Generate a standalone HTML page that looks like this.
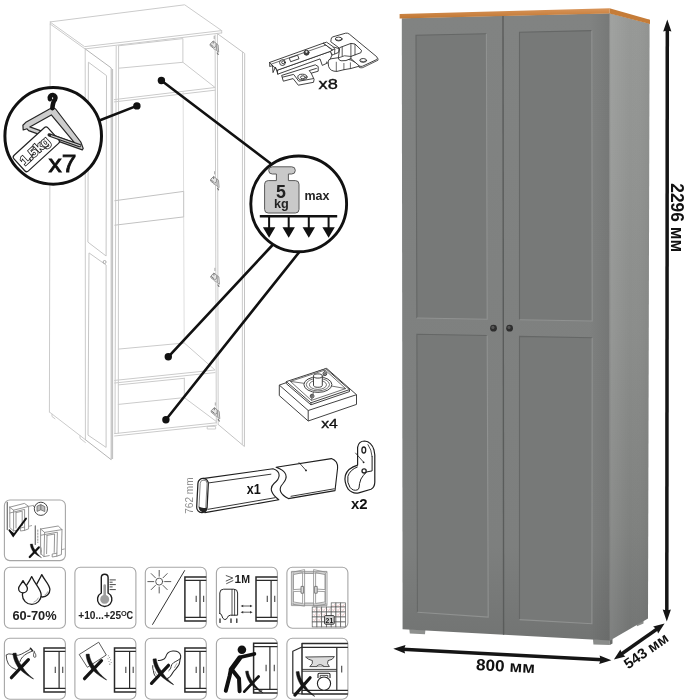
<!DOCTYPE html>
<html><head><meta charset="utf-8"><title>Wardrobe</title>
<style>
html,body{margin:0;padding:0;background:#fff}
body{width:684px;height:700px;overflow:hidden;position:relative;font-family:"Liberation Sans",sans-serif}
svg{position:absolute;left:0;top:0;display:block}
svg text{font-family:"Liberation Sans",sans-serif}
</style></head><body>
<svg width="684" height="700" viewBox="0 0 684 700">
<g opacity="0.999">
<defs><linearGradient id="gside" x1="0" y1="0" x2="0" y2="1"><stop offset="0" stop-color="#979997"/><stop offset="0.5" stop-color="#8b8d8b"/><stop offset="0.82" stop-color="#7f817f"/><stop offset="1" stop-color="#727473"/></linearGradient><linearGradient id="gfront" x1="0" y1="0" x2="0" y2="1"><stop offset="0" stop-color="#818382"/><stop offset="0.85" stop-color="#7d7f7e"/><stop offset="1" stop-color="#727473"/></linearGradient><linearGradient id="gwood" x1="0" y1="0" x2="0" y2="1"><stop offset="0" stop-color="#d9955a"/><stop offset="1" stop-color="#bf7632"/></linearGradient></defs>
<polygon points="409.3,629.0 425.4,629.9 425.0,634.3 409.8,633.5" fill="#8e908e"/>
<polygon points="593.0,639.0 609.8,640.0 609.8,645.0 593.4,644.4" fill="#8a8c8a"/>
<polygon points="609.8,640.0 612.5,638.5 612.5,643.5 609.8,645.0" fill="#6a6c6a"/>
<polygon points="636.5,624.5 643.5,620.6 643.5,623.6 637.0,626.3" fill="#8a8c8a"/>
<polygon points="401.8,18.3 609.5,13.2 610.0,640.6 402.6,629.2" fill="url(#gfront)"/>
<polygon points="609.5,13.2 649.6,23.6 648.0,618.6 610.0,640.6" fill="url(#gside)"/>
<defs><linearGradient id="gsideh" x1="0" y1="0" x2="1" y2="0"><stop offset="0" stop-color="#fff" stop-opacity="0.10"/><stop offset="0.5" stop-color="#fff" stop-opacity="0"/><stop offset="1" stop-color="#000" stop-opacity="0.04"/></linearGradient><linearGradient id="gfronth" x1="0" y1="0" x2="1" y2="0"><stop offset="0.9" stop-color="#000" stop-opacity="0"/><stop offset="1" stop-color="#000" stop-opacity="0.08"/></linearGradient></defs>
<polygon points="609.5,13.2 649.6,23.6 648.0,618.6 610.0,640.6" fill="url(#gsideh)"/>
<polygon points="401.8,18.3 609.5,13.2 610.0,640.6 402.6,629.2" fill="url(#gfronth)"/>
<polygon points="399.6,13.9 609.5,8.2 609.5,13.4 399.6,18.6" fill="url(#gwood)"/>
<polygon points="609.5,8.2 650.0,19.7 650.0,24.0 609.5,13.4" fill="#c57c38"/>
<line x1="503.0" y1="16" x2="503.6" y2="634.8" stroke="#5a5c5b" stroke-width="1.4"/>
<line x1="609.6" y1="13.4" x2="610.0" y2="640.6" stroke="#808280" stroke-width="0.8"/>
<polygon points="416.0,35.3 486.4,33.7 487.2,319.2 416.9,318.0" fill="#777978"/><polyline points="416.9,318.0 416.0,35.3 486.4,33.7" fill="none" stroke="#656766" stroke-width="1.1"/><polyline points="486.4,33.7 487.2,319.2 416.9,318.0" fill="none" stroke="#909291" stroke-width="1.1"/>
<polygon points="416.9,334.2 487.2,335.5 488.2,617.1 417.4,612.3" fill="#777978"/><polyline points="417.4,612.3 416.9,334.2 487.2,335.5" fill="none" stroke="#656766" stroke-width="1.1"/><polyline points="487.2,335.5 488.2,617.1 417.4,612.3" fill="none" stroke="#909291" stroke-width="1.1"/>
<polygon points="519.5,32.3 591.8,30.6 592.2,321.0 519.5,319.7" fill="#777978"/><polyline points="519.5,319.7 519.5,32.3 591.8,30.6" fill="none" stroke="#656766" stroke-width="1.1"/><polyline points="591.8,30.6 592.2,321.0 519.5,319.7" fill="none" stroke="#909291" stroke-width="1.1"/>
<polygon points="519.5,336.4 592.2,337.8 591.9,623.7 519.5,619.6" fill="#777978"/><polyline points="519.5,619.6 519.5,336.4 592.2,337.8" fill="none" stroke="#656766" stroke-width="1.1"/><polyline points="592.2,337.8 591.9,623.7 519.5,619.6" fill="none" stroke="#909291" stroke-width="1.1"/>
<circle cx="493.5" cy="328.2" r="3.4" fill="#2e2e2e"/>
<circle cx="492.9" cy="327.4" r="1.6" fill="#555"/>
<circle cx="509.6" cy="328.2" r="3.4" fill="#2e2e2e"/>
<circle cx="509.0" cy="327.4" r="1.6" fill="#555"/>
<line x1="667.3" y1="28.6" x2="666.8" y2="612.4" stroke="#151515" stroke-width="3.5"/><polygon points="666.8,621.4 662.7,609.4 666.8,610.6 670.9,609.4" fill="#151515"/><polygon points="667.3,19.6 671.4,31.6 667.3,30.4 663.2,31.6" fill="#151515"/>
<line x1="402.3" y1="649.2" x2="602.4" y2="659.8" stroke="#151515" stroke-width="3.5"/><polygon points="611.4,660.3 599.2,664.0 600.6,659.7 599.6,655.4" fill="#151515"/><polygon points="393.3,648.7 405.5,645.0 404.1,649.3 405.1,653.6" fill="#151515"/>
<line x1="620.4" y1="654.8" x2="658.1" y2="628.2" stroke="#151515" stroke-width="3.5"/><polygon points="664.6,623.6 658.1,633.5 656.6,629.3 653.1,626.4" fill="#151515"/><polygon points="613.9,659.4 620.4,649.5 621.9,653.7 625.4,656.6" fill="#151515"/>
<text transform="translate(671.2,217.8) rotate(90)" text-anchor="middle" font-weight="bold" font-size="17.6" fill="#111" textLength="69" lengthAdjust="spacingAndGlyphs">2296 мм</text>
<text transform="translate(505.2,671.6) rotate(3)" text-anchor="middle" font-weight="bold" font-size="16" fill="#111" textLength="59" lengthAdjust="spacingAndGlyphs">800 мм</text>
<text transform="translate(649.0,655.0) rotate(-35)" text-anchor="middle" font-weight="bold" font-size="14.6" fill="#111" textLength="50.5" lengthAdjust="spacingAndGlyphs">543 мм</text>
<!-- light wardrobe outline drawing -->
<g fill="none" stroke="#cbcbcb" stroke-width="1" stroke-linecap="round" stroke-linejoin="round">
  <!-- top panel -->
  <polygon points="50.3,21.9 184.7,4.8 221.7,30.6 85,46.6"/>
  <polyline points="50.3,24.1 85,48.9 221.7,32.9"/>
  <line x1="221.7" y1="30.6" x2="221.7" y2="32.9"/>
  <line x1="50.3" y1="21.9" x2="50.3" y2="24.1"/>
  <!-- left outer side -->
  <line x1="50.2" y1="24" x2="49.4" y2="412"/>
  <polyline points="49.4,412 85.4,439.7"/>
  <polyline points="52,414.2 52,416.5 55,418.8"/>
  <polyline points="80,435.6 80,438.3 85.4,442.5"/>
  <line x1="85.2" y1="48.9" x2="85.4" y2="439.7"/>
  <!-- left inner side panel -->
  <line x1="116.2" y1="46" x2="115.0" y2="433.6"/>
  <line x1="118.6" y1="45.8" x2="118.3" y2="433.2"/>
  <!-- top rail -->
  <polyline points="118.6,45.8 182.9,38.6 182.9,62.3 118.6,68.2"/>
  <!-- shelf 1 -->
  <polyline points="182.9,62.3 215.1,87.5 114.3,99.6"/>
  <line x1="114.3" y1="101.9" x2="215.1" y2="90.2"/>
  <!-- back right inner corner -->
  <line x1="183.1" y1="92" x2="183.6" y2="191.4" stroke="#dedede"/>
  <line x1="183.7" y1="216.9" x2="184.2" y2="343" stroke="#dedede"/>
  <!-- mid rail -->
  <polyline points="114.8,200.7 183.7,191.4 183.7,216.9 114.8,225.2" stroke="#c2c2c2"/>
  <!-- shelf 2 -->
  <polyline points="118.3,349.1 184.3,343 215,370 114.6,380.4"/>
  <line x1="114.6" y1="383" x2="215" y2="372.6"/>
  <!-- lower rail -->
  <polyline points="118.3,384.9 184.3,378.3"/>
  <polyline points="118.3,404.4 184.3,397.6 184.3,378.3"/>
  <!-- bottom -->
  <polyline points="184.3,397.6 216.5,421.6"/>
  <line x1="114.6" y1="433.6" x2="216.5" y2="422.8"/>
  <line x1="114.6" y1="436" x2="216.5" y2="425.2"/>
  <!-- right side panel -->
  <line x1="215.1" y1="34.9" x2="216.3" y2="423"/>
  <line x1="217.4" y1="34.4" x2="218.2" y2="424.5"/>
  <!-- right door -->
  <polyline points="217.6,33.8 244.7,53.5 244.4,446.5 218.2,424.5" stroke="#c4c4c4"/>
  <line x1="242.5" y1="52" x2="242.3" y2="444.5"/>
</g>
<!-- left door (slightly darker) -->
<g fill="none" stroke="#bdbdbd" stroke-width="1" stroke-linejoin="round">
  <polyline points="85.2,48.9 111.2,67.9 111.2,459.7 85.4,439.7" stroke="#b4b4b4"/>
  <line x1="112.6" y1="69" x2="112.6" y2="459"/>
  <polygon points="88.4,62.2 106.5,75.6 106.1,256 87.9,242.1" stroke="#c6c6c6"/>
  <polygon points="89,252.9 106.1,265 106.1,447.4 88,435.1" stroke="#c6c6c6"/>
  <circle cx="104.6" cy="262" r="1.5" stroke="#aaa"/>
</g>
<!-- hinges -->
<defs><g id="hng" fill="none" stroke="#8c8c8c" stroke-width="1" stroke-linejoin="round" stroke-linecap="round">
  <path d="M-0.8,-9 v2.4" stroke="#aaa"/>
  <path d="M-4.6,-1.4 l2.8,-2.8 l3,2.4 l-0.2,3 l-2.6,1.8 l-3,-2.4 z" fill="#e6e6e6"/>
  <path d="M-4.2,-0.6 l2.4,2 M-1.8,-3.6 v1.6" stroke="#777"/>
  <path d="M1.6,-1.4 l1.5,1 l0.6,7.4 l-1.7,-1.2 z" stroke="#999"/>
  <path d="M-1.4,3.6 l3.4,1.8" stroke="#aaa"/>
  <path d="M2.2,7.8 l1,1.4" stroke="#777" stroke-width="1.2"/>
</g></defs>
<use href="#hng" x="215.0" y="45.2"/>
<use href="#hng" x="215.4" y="180.6"/>
<use href="#hng" x="215.7" y="277.2"/>
<use href="#hng" x="216.1" y="411.8"/>
<path d="M207.2,426.4 h8.4 v2.6 h-8.4 z" fill="none" stroke="#c8c8c8" stroke-width="0.9"/>

<!-- leader lines, dots, circles -->
<g stroke="#111" stroke-width="2.6" stroke-linecap="round">
  <line x1="136.8" y1="105.9" x2="100" y2="120.2"/>
  <line x1="161.3" y1="80.5" x2="270" y2="163"/>
  <line x1="168.3" y1="356.8" x2="273.5" y2="244"/>
  <line x1="165.9" y1="419.7" x2="299.3" y2="252"/>
</g>
<g fill="#111">
  <circle cx="136.9" cy="105.9" r="3.7"/>
  <circle cx="161.4" cy="80.5" r="3.7"/>
  <circle cx="168.3" cy="356.8" r="3.7"/>
  <circle cx="165.9" cy="419.7" r="3.7"/>
</g>
<circle cx="53.2" cy="135.9" r="48.3" fill="#fff" stroke="#111" stroke-width="3.0"/>
<circle cx="298.7" cy="203.9" r="47.9" fill="#fff" stroke="#111" stroke-width="2.9"/>

<!-- ===== hanger callout ===== -->
<g>
  <!-- hanger body -->
  <path d="M50.0,108.7 L26.3,121.9 L22.9,125.2 L23.2,130.0 L27.0,128.8 L28.6,130.6 L82.3,149.9 L83.2,148.4 L80.8,142.0 L55.6,109.0 L52.8,107.6 Z
           M51.3,114.9 L29.8,126.9 L74.4,142.7 Z" fill="#cdcdcd" fill-rule="evenodd" stroke="#262626" stroke-width="1.2" stroke-linejoin="round"/>
  <!-- hook -->
  <path d="M49.9,99.0 A2.9,2.9 0 1 1 55.0,99.6 Q52.9,101.6 52.4,108.2" fill="none" stroke="#111" stroke-width="4.6" stroke-linecap="round"/>
  <!-- tag -->
  <g transform="translate(36.5,149.2) rotate(-42.4)">
    <rect x="-23.2" y="-10.6" width="46.0" height="21.2" rx="2.6" fill="#fff" stroke="#222" stroke-width="1.2"/>
    <text x="-2.2" y="4.6" text-anchor="middle" font-weight="bold" font-size="13.4" fill="#fff" stroke="#111" stroke-width="1.5" paint-order="stroke" textLength="35" lengthAdjust="spacingAndGlyphs">1.5kg</text>
  </g>
  <!-- bar through tag hole -->
  <path d="M49.2,134.9 L79.6,145.6" stroke="#262626" stroke-width="3.4" stroke-linecap="round" fill="none"/>
  <path d="M51.4,135.7 L80.0,145.8" stroke="#d4d4d4" stroke-width="1.2" stroke-linecap="round" fill="none"/>
  <text x="48.6" y="171.8" font-size="24.7" fill="#111" stroke="#111" stroke-width="0.8" textLength="28" lengthAdjust="spacingAndGlyphs">x7</text>
</g>

<!-- ===== 5kg callout ===== -->
<g>
  <path d="M272.3,166.8 H291.7 A3.6,3.6 0 0 1 291.7,174.0 H288.4 V180.6 H295.4 A3.6,3.6 0 0 1 299.0,184.2 V209.4 A3.6,3.6 0 0 1 295.4,213.0 H268.2 A3.6,3.6 0 0 1 264.6,209.4 V184.2 A3.6,3.6 0 0 1 268.2,180.6 H276.4 V174.0 H272.3 A3.6,3.6 0 0 1 272.3,166.8 Z" fill="#c9c9c9" stroke="#5a5a5a" stroke-width="1.0"/>
  <text x="280.9" y="198.4" text-anchor="middle" font-weight="bold" font-size="17.8" fill="#222">5</text>
  <text x="281.4" y="207.9" text-anchor="middle" font-weight="bold" font-size="12" fill="#222" textLength="14.8" lengthAdjust="spacingAndGlyphs">kg</text>
  <text x="304.4" y="199.6" font-weight="bold" font-size="13" fill="#222" textLength="25" lengthAdjust="spacingAndGlyphs">max</text>
  <rect x="259.8" y="215.0" width="77.4" height="2.5" fill="#111"/>
  <g fill="#111">
    <path d="M268.1,217 h2 v10.2 h5.2 l-6.2,10.5 l-6.2,-10.5 h5.2 z"/>
    <path d="M287.7,217 h2 v10.2 h5.2 l-6.2,10.5 l-6.2,-10.5 h5.2 z"/>
    <path d="M307.8,217 h2 v10.2 h5.2 l-6.2,10.5 l-6.2,-10.5 h5.2 z"/>
    <path d="M327.6,217 h2 v10.2 h5.2 l-6.2,10.5 l-6.2,-10.5 h5.2 z"/>
  </g>
</g>

<!-- ===== hinge x8 ===== -->
<g fill="#fff" stroke="#2e2e2e" stroke-width="0.9" stroke-linejoin="round" stroke-linecap="round">
  <!-- mounting plate -->
  <path d="M282.0,75.3 L315.3,64.8 L318.2,66.5 L318.2,71.2 L311.2,73.2 L314.1,79.4 L313.5,82.3 L298.3,85.2 L293.1,78.6 L283.7,81.1 Z"/>
  <path d="M282.4,77.2 L293.6,74.4 L298.8,81.2 L313.4,78.6 M311.2,73.2 L309.2,70.6 L316.4,68.4" fill="none"/>
  <ellipse cx="302.4" cy="77.0" rx="4.6" ry="2.8"/>
  <ellipse cx="302.9" cy="77.3" rx="2.4" ry="1.5"/>
  <!-- arm side -->
  <path d="M277.9,70.0 L330.5,51.3 L332.0,55.0 L328.7,62.4 L322.3,65.4 L320.0,58.9 L277.9,74.1 Z"/>
  <!-- arm top -->
  <path d="M269.7,62.4 L323.5,43.1 L332.3,50.1 L330.5,51.3 L277.9,70.0 Z"/>
  <path d="M269.7,62.4 L269.7,66.5 L272.5,65.6 L273.0,72.6 L275.4,67.0 L277.9,74.1" fill="none"/>
  <path d="M271.6,64.0 L326.0,45.0" fill="none" stroke-width="0.7"/>
  <circle cx="282.5" cy="62.6" r="2.9"/>
  <circle cx="283.2" cy="62.3" r="1.5"/>
  <path d="M289.6,58.0 L297.6,55.2 L299.0,58.8 L291.0,61.6 Z"/>
  <circle cx="306.5" cy="52.7" r="2.5" fill="#444"/>
  <circle cx="306.5" cy="51.8" r="1.1" fill="#ddd" stroke="none"/>
  <!-- cup body -->
  <path d="M328.1,61.6 Q328.3,59.2 331.0,58.8 L339.0,57.6 L351.0,60.0 L359.1,64.4 L359.1,66.2 L350.9,68.5 L343.9,69.7 L337.0,71.4 Q330.2,71.6 328.7,66.8 Z"/>
  <path d="M336.3,62.2 L336.3,71.0 M343.9,63.4 L343.9,69.7 M350.4,62.8 L350.4,68.5" fill="none" stroke-width="0.7"/>
  <!-- cup plate -->
  <path d="M331.1,39.0 Q331.0,37.4 333.0,36.8 L345.6,33.2 Q347.6,32.8 349.2,34.0 L376.8,56.8 Q378.2,58.4 376.6,59.6 L362.6,66.2 Q361.0,66.8 359.4,66.0 L350.9,58.6 Q346.0,61.4 341.0,60.8 Q338.6,60.2 338.4,58.0 L339.6,48.3 L331.1,42.0 Z"/>
  <path d="M378.0,58.8 L378.0,60.2 L362.8,67.6 Q361.0,68.2 359.2,67.4 L359.1,66.0" fill="none" stroke-width="0.8"/>
  <!-- cavity -->
  <path d="M339.8,47.6 L350.9,43.4 L355.0,44.0 L361.5,50.4 L360.9,52.7 L350.9,56.4 L350.9,58.6" fill="none"/>
  <path d="M350.9,43.6 V56.4 M355.0,44.4 V54.8 M342.2,47.0 V56.0" fill="none" stroke-width="0.8"/>
  <path d="M339.0,57.6 Q344.0,54.4 350.9,56.4" fill="none" stroke-width="0.8"/>
  <ellipse cx="338.7" cy="39.0" rx="3.4" ry="1.9"/>
  <path d="M335.8,39.6 Q338.7,41.4 341.6,39.6" fill="none" stroke-width="0.7"/>
  <ellipse cx="363.2" cy="60.4" rx="3.4" ry="1.9"/>
  <path d="M360.3,61.0 Q363.2,62.8 366.1,61.0" fill="none" stroke-width="0.7"/>
  <!-- link -->
  <path d="M323.5,43.1 L326.6,42.2 L333.6,47.0 L339.0,48.6 L338.6,52.4 L333.4,54.6 L332.0,55.0 L330.5,51.3 L332.3,50.1 Z"/>
  <path d="M332.3,50.1 L334.8,49.0 L334.6,53.6 M334.8,49.0 L333.0,47.2" fill="none" stroke-width="0.8"/>
  <circle cx="331.6" cy="54.0" r="0.7" fill="#555" stroke="none"/>
  <circle cx="326.6" cy="62.2" r="0.7" fill="#555" stroke="none"/>
</g>
<text x="318.6" y="88.6" font-size="13.8" fill="#111" stroke="#111" stroke-width="0.35" textLength="19.2" lengthAdjust="spacingAndGlyphs">x8</text>

<!-- ===== foot x4 ===== -->
<g fill="#fff" stroke="#383838" stroke-width="0.95" stroke-linejoin="round">
  <path d="M279.3,385.1 L326.7,368.4 L356.5,394.7 L356.5,404.4 L308.2,421.0 L279.3,395.6 Z"/>
  <path d="M279.3,385.1 L308.2,410.5 L356.5,394.7 M308.2,410.5 L308.2,421.0" fill="none"/>
  <path d="M286.3,381.6 L325.8,368.6 L349.5,389.6 L349.5,391.6 L310.9,404.8 L286.3,383.6 Z"/>
  <path d="M286.3,381.6 L310.9,402.8 L349.5,389.6 M310.9,402.8 L310.9,404.8" fill="none"/>
  <path d="M290.4,381.4 L325.2,370.0 L345.6,388.6 L311.4,400.4 Z" fill="none" stroke-width="0.7"/>
  <path d="M290.4,381.4 L304.5,383.4 M325.2,370.0 L322.5,377.2 M345.6,388.6 L331.5,386.0 M311.4,400.4 L313.6,391.6" fill="none" stroke-width="0.7"/>
  <ellipse cx="317.9" cy="384.6" rx="14.0" ry="7.8"/>
  <ellipse cx="317.9" cy="384.6" rx="11.6" ry="6.3" stroke-width="0.7"/>
  <ellipse cx="317.9" cy="384.8" rx="8.6" ry="4.6" stroke-width="0.7"/>
  <path d="M313.5,376.0 L313.5,385.2 A4.4,2.1 0 0 0 322.3,385.2 L322.3,376.0" />
  <ellipse cx="317.9" cy="376.0" rx="4.4" ry="2.1"/>
  <circle cx="324.9" cy="373.7" r="1.9"/>
  <circle cx="324.9" cy="373.7" r="0.8"/>
  <circle cx="312.1" cy="396.1" r="1.9"/>
  <circle cx="312.1" cy="396.1" r="0.8"/>
</g>
<text x="321.2" y="428.2" font-size="13.6" fill="#111" stroke="#111" stroke-width="0.35" textLength="16.6" lengthAdjust="spacingAndGlyphs">x4</text>

<!-- ===== rod x1 ===== -->
<g fill="#fff" stroke="#1f1f1f" stroke-width="1.1" stroke-linejoin="round" stroke-linecap="round">
  <!-- left piece -->
  <path d="M202.6,478.6 L273.0,468.8 C281.5,471.5 280.5,478.5 274.0,483.5 C268.5,488.5 272.0,494.5 278.8,499.8 L204.8,512.6 Z"/>
  <path d="M208.0,483.0 L270.9,474.2 M208.0,509.3 L275.0,497.7" fill="none" stroke-width="0.9"/>
  <rect x="-5.2" y="-17.1" width="10.4" height="34.2" rx="5.2" transform="translate(202.5,495.5) rotate(3)" stroke-width="1.25"/>
  <rect x="-3.4" y="-15.4" width="6.8" height="30.8" rx="3.4" transform="translate(203.0,495.4) rotate(3)" stroke-width="0.7" stroke="#555" fill="none"/>
  <path d="M198.6,506.6 Q199.4,512.0 203.4,512.5 Q206.6,512.0 207.0,507.4 Q203,509.0 198.6,506.6 Z" fill="#222" stroke="none"/>
  <!-- right piece -->
  <path d="M276.1,467.2 L331.4,458.6 Q338.0,461.0 337.6,468.0 L335.0,490.6 L288.4,498.6 C280.5,494.5 277.5,489.5 283.0,483.5 C288.5,477.0 287.0,471.0 276.1,467.2 Z"/>
  <path d="M291.0,496.3 L334.2,488.8" fill="none" stroke-width="0.9"/>
  <path d="M299.0,462.5 L306.0,470.4" fill="none" stroke-width="0.8"/>
  <circle cx="306.0" cy="470.4" r="0.9" fill="#1f1f1f" stroke="none"/>
</g>
<text x="246.8" y="493.9" font-size="14" font-weight="bold" fill="#111" textLength="14.0" lengthAdjust="spacingAndGlyphs">x1</text>
<text transform="translate(192.8,513.8) rotate(-90)" font-size="10.2" fill="#8c8c8c" textLength="36.5" lengthAdjust="spacingAndGlyphs">762 mm</text>

<!-- ===== bracket x2 ===== -->
<g fill="#fff" stroke="#1f1f1f" stroke-width="1.2" stroke-linejoin="round" stroke-linecap="round">
  <path d="M357.6,465.1 L357.6,447.4 Q358.6,441.0 364.6,441.0 Q371.5,441.6 374.0,450.0 L374.8,455.0 L374.8,482.3 Q374.6,487.6 371.0,489.2 L359.6,492.6 Q353.0,494.6 348.2,489.2 Q343.8,482.5 345.4,475.2 Q347.8,468.0 357.6,465.1 Z"/>
  <path d="M357.3,467.0 Q350.0,469.8 347.9,476.2 Q346.8,482.6 349.9,487.2 Q353.2,491.6 357.9,489.7 L359.0,488.0 L359.6,483.4 Q360.4,478.6 363.4,475.4 L366.4,472.0 L372.1,470.9 L372.1,456.6" fill="none" stroke-width="1.0"/>
  <path d="M372.1,456.6 Q371.6,449.5 368.0,444.6" fill="none" stroke-width="0.8"/>
  <ellipse cx="363.8" cy="450.1" rx="1.9" ry="3.1" stroke-width="1.3"/>
  <circle cx="364.1" cy="470.9" r="2.1" stroke-width="1.3"/>
  <path d="M355.6,453.1 L363.4,462.0" fill="none" stroke-width="0.8"/>
  <circle cx="363.6" cy="462.3" r="0.9" fill="#1f1f1f" stroke="none"/>
</g>
<text x="351.0" y="508.6" font-size="14" font-weight="bold" fill="#111" textLength="16.6" lengthAdjust="spacingAndGlyphs">x2</text>

<rect x="4.4" y="500.0" width="61" height="60.6" rx="5.5" fill="#fff" stroke="#a6a6a6" stroke-width="1.1"/>
<g fill="none" stroke="#8a8a8a" stroke-width="0.9" stroke-linejoin="round" stroke-linecap="round">
  <path d="M7.3,502.5 V529.6" stroke-width="1.3" stroke="#777"/>
  <path d="M9.6,507.2 L24.4,503.4 L28.6,506.4 L28.6,528.8 L24.6,530.4 L24.6,509.4 L9.8,513.0"/>
  <path d="M9.6,507.2 L13.6,510.2 L28.6,506.4 M13.6,510.2 V531.0 L9.8,527.6 V507.2 M13.6,531.0 L18.6,529.8 M24.6,527 L20.4,528 V531 L24.6,530.4"/>
  <path d="M16.0,512.6 L22.2,511.2 V525.6 M16.0,512.6 V528"/>
  <path d="M28.6,506.4 L33.4,505.4 M28.6,526.4 L31.6,525.6" stroke="#999"/>
  <path d="M35.3,526.0 V544.4" stroke-width="1.3" stroke="#777"/>
  <path d="M37.8,530 V542.6" stroke-dasharray="1.4 1.6"/>
  <path d="M40.6,529.0 L58.2,526.0 L62.0,529.6 L61.4,554.6 L56.8,556.2 L57.4,532.2 L41.0,535.2"/>
  <path d="M40.6,529.0 L44.6,532.4 L62.0,529.6 M44.6,532.4 L44.0,556.6 L40.6,553.6 V529.0 M44.0,556.6 L49.2,555.6 M56.8,553.2 L52.2,554.0 V557.0 L56.8,556.2"/>
  <path d="M47.0,535.4 L54.6,534.0 L54.2,552.4 M47.0,535.4 L46.6,553.6"/>
  <path d="M61.6,549.6 L64.4,549.0" stroke="#999"/>
  <path d="M40.2,546.4 Q42.6,549 41.0,554.6" stroke="#999"/>
</g>
<circle cx="40.9" cy="508.8" r="6.6" fill="#fff" stroke="#444" stroke-width="1.0"/>
<path d="M33.2,506.2 L34.6,506.8" stroke="#444" stroke-width="0.8"/>
<path d="M37.0,506.2 L40.8,504.6 L44.8,506.6 V511.6 L40.8,509.8 L37.0,511.4 Z M40.8,504.6 V509.8" fill="#bdbdbd" stroke="#666" stroke-width="0.8" stroke-linejoin="round"/>
<path d="M9.4,530.2 L13.2,535.8 L26.0,518.6" fill="none" stroke="#111" stroke-width="1.9" stroke-linecap="round" stroke-linejoin="miter"/>
<path d="M9.0,529.6 L13.4,536.4 L14.6,533.6 Z" fill="#111"/>

<line x1="38.77" y1="547.39" x2="29.76" y2="556.99" stroke="#141414" stroke-width="2.23" stroke-linecap="round"/>
<path d="M30.24,544.12 L30.35,545.13 L30.53,546.13 L30.79,547.13 L31.12,548.11 L31.53,549.08 L32.01,550.05 L32.55,550.99 L33.12,551.97 L34.00,552.73 L34.91,553.48 L35.86,554.22 L36.86,554.95 L37.91,555.65 L39.01,556.34 L40.17,557.01 L41.38,557.68 L41.45,557.57 L40.42,556.67 L39.45,555.76 L38.57,554.86 L37.77,553.94 L37.05,553.03 L36.41,552.11 L35.87,551.20 L35.44,550.26 L34.81,549.52 L34.31,548.74 L33.86,547.95 L33.48,547.16 L33.16,546.35 L32.90,545.54 L32.70,544.72 L32.56,543.88 Z" fill="#141414" stroke="#141414" stroke-width="0.27" stroke-linejoin="round"/>
<rect x="4.4" y="567.3" width="61" height="61" rx="5.5" fill="#fff" stroke="#a6a6a6" stroke-width="1.1"/>
<g fill="#fff" stroke="#1c1c1c" stroke-width="1.3" stroke-linejoin="round">
  <path d="M41.8,574.6 C44.6,580.4 49.9,584.8 49.9,589.6 A7.4,7.4 0 0 1 35.1,589.6 C35.1,584.8 39.4,580.4 41.8,574.6 Z"/>
  <path d="M31.7,576.6 C35.2,584.6 41.2,589.0 41.2,595.0 A9.4,9.4 0 0 1 22.4,595.0 C22.4,589.0 28.2,584.6 31.7,576.6 Z"/>
  <path d="M23.0,580.6 C24.8,584.4 27.4,586.2 27.4,588.4 A4.4,4.4 0 0 1 18.6,588.4 C18.6,586.2 21.2,584.4 23.0,580.6 Z"/>
</g>
<path d="M38.4,597.6 A7.2,7.2 0 0 1 33.6,602.2" fill="none" stroke="#999" stroke-width="0.9"/>
<path d="M47.8,591.4 A5.6,5.6 0 0 1 44.6,595.0" fill="none" stroke="#999" stroke-width="0.9"/>
<text x="34.5" y="619.6" text-anchor="middle" font-weight="bold" font-size="12.4" fill="#222" textLength="44.2" lengthAdjust="spacingAndGlyphs">60-70%</text>

<rect x="74.9" y="567.3" width="61" height="61" rx="5.5" fill="#fff" stroke="#a6a6a6" stroke-width="1.1"/>
<path d="M101.3,577.6 A3.4,3.4 0 0 1 108.1,577.6 V593.0 A7.2,7.2 0 1 1 101.3,593.0 Z" fill="#fff" stroke="#1c1c1c" stroke-width="1.4"/>
<path d="M103.4,585.6 A1.3,1.3 0 0 1 106.0,585.6 V595.0 A4.5,4.5 0 1 1 103.4,595.0 Z" fill="#9e9e9e"/>
<g stroke="#333" stroke-width="0.9" fill="none">
  <path d="M109.6,579.9 H115.8 M109.6,582.2 H112.6 M109.6,584.6 H115.8 M109.6,586.9 H112.6 M109.6,589.6 H115.8"/>
</g>
<text x="78.2" y="618.9" font-weight="bold" font-size="10.4" fill="#222" textLength="43.0" lengthAdjust="spacingAndGlyphs">+10...+25</text>
<text x="121.0" y="616.2" font-weight="bold" font-size="7.4" fill="#222">O</text>
<text x="126.4" y="618.9" font-weight="bold" font-size="10.4" fill="#222" textLength="6.6" lengthAdjust="spacingAndGlyphs">C</text>

<rect x="145.3" y="567.3" width="61" height="61" rx="5.5" fill="#fff" stroke="#a6a6a6" stroke-width="1.1"/>
<g fill="none" stroke="#4a4a4a" stroke-width="0.9" stroke-linecap="round">
  <circle cx="159.2" cy="581.6" r="3.5" fill="#fff"/>
  <path d="M159.2,570.4 V576.2 M159.2,587.0 V593.0 M147.8,581.6 H153.8 M164.6,581.6 H170.8 M151.2,573.6 L155.4,577.8 M163.0,585.4 L167.2,589.6 M167.2,573.6 L163.0,577.8 M155.4,585.4 L151.2,589.6"/>
  <path d="M184.6,570.6 L152.6,624.4" stroke="#333" stroke-width="1.0"/>
</g>
<g fill="none" stroke="#2a2a2a" stroke-linecap="butt"><path d="M206.3,576.9 H184.9 V620.9 H206.3" stroke-width="1.5"/><path d="M184.9,580.3 H206.3 M184.9,617.3 H206.3" stroke-width="1.2"/><path d="M200.0,580.3 V617.3" stroke-width="1.2"/><path d="M196.2,595.7 v6.4 M203.6,595.7 v6.4" stroke-width="1.2" stroke="#555"/></g>
<rect x="216.4" y="567.3" width="61" height="61" rx="5.5" fill="#fff" stroke="#a6a6a6" stroke-width="1.1"/>
<path d="M226.2,575.6 L232.8,578.0 L226.2,581.0 M226.6,583.6 L233.0,580.6" fill="none" stroke="#444" stroke-width="0.9" stroke-linecap="round" stroke-linejoin="round"/>
<text x="234.4" y="583.2" font-weight="bold" font-size="11.8" fill="#1c1c1c">1<tspan font-size="10.6" dx="0.2">М</tspan></text>
<g fill="none" stroke="#2a2a2a" stroke-width="1.0" stroke-linejoin="round" stroke-linecap="round">
  <path d="M219.8,613.4 V593.0 Q219.8,589.2 223.6,589.2 H233.8 Q237.6,589.2 237.6,593.0 V615.2 H230.4 Q228.0,615.4 227.4,617.6 Q226.4,620.2 224.2,619.4 Q222.4,618.6 222.0,616.0 Q221.4,613.6 219.8,613.4 Z" fill="#fff"/>
  <path d="M232.0,589.4 V615.2 M234.6,589.6 V615.2" stroke-width="0.8"/>
  <path d="M220.0,618.8 V622.4 M231.0,618.8 V622.4 M236.8,618.8 V622.4" stroke-width="1.3"/>
</g>
<g stroke="#333" stroke-width="0.8" fill="#333">
  <path d="M242.6,606 H250.6 M242.6,612.2 H250.6" fill="none"/>
  <path d="M240.6,606 l2.6,-1.3 v2.6 z M252.6,606 l-2.6,-1.3 v2.6 z M240.6,612.2 l2.6,-1.3 v2.6 z M252.6,612.2 l-2.6,-1.3 v2.6 z" stroke="none"/>
</g>
<g fill="none" stroke="#2a2a2a" stroke-linecap="butt"><path d="M277.4,576.9 H256.0 V620.9 H277.4" stroke-width="1.5"/><path d="M256.0,580.3 H277.4 M256.0,617.3 H277.4" stroke-width="1.2"/><path d="M271.1,580.3 V617.3" stroke-width="1.2"/><path d="M267.3,595.7 v6.4 M274.7,595.7 v6.4" stroke-width="1.2" stroke="#555"/></g>
<rect x="286.9" y="567.3" width="61" height="61" rx="5.5" fill="#fff" stroke="#a6a6a6" stroke-width="1.1"/>
<g fill="none" stroke="#8a8a8a" stroke-width="0.8" stroke-linejoin="round">
  <rect x="291.4" y="571.4" width="35.6" height="34.2" fill="#fff"/>
  <rect x="293.0" y="573.0" width="32.4" height="31.0"/>
  <path d="M291.4,572.4 L304.6,569.6 V606.2 L291.4,604.0"/>
  <path d="M293.4,574.6 L302.6,572.6 V589.0 L293.4,589.6 Z M293.4,591.6 L302.6,591.2 V603.4 L293.4,602.0 Z"/>
  <path d="M327.0,572.4 L313.6,569.6 V606.2 L327.0,604.0"/>
  <path d="M325.0,574.6 L315.6,572.6 V589.0 L325.0,589.6 Z M325.0,591.6 L315.6,591.2 V603.4 L325.0,602.0 Z"/>
  <path d="M304.6,573.4 H313.6 M304.6,603.0 H313.6"/>
  <path d="M301.0,586.4 h2.6 v6.8 h-2.6 z M314.6,586.4 h2.6 v6.8 h-2.6 z" stroke="#666" fill="#ddd"/>
</g>
<g fill="#fff" stroke="#5a5a5a" stroke-width="0.7">
<rect x="331.20" y="602.85" width="4.75" height="4.15"/>
<rect x="335.95" y="602.85" width="4.75" height="4.15"/>
<rect x="340.70" y="602.85" width="4.75" height="4.15"/>
<rect x="312.20" y="607.00" width="4.75" height="4.99"/>
<rect x="316.95" y="607.00" width="4.75" height="4.99"/>
<rect x="321.70" y="607.00" width="4.75" height="4.99"/>
<rect x="326.45" y="607.00" width="4.75" height="4.99"/>
<rect x="331.20" y="607.00" width="4.75" height="4.99"/>
<rect x="335.95" y="607.00" width="4.75" height="4.99"/>
<rect x="340.70" y="607.00" width="4.75" height="4.99"/>
<rect x="312.20" y="611.99" width="4.75" height="4.99"/>
<rect x="316.95" y="611.99" width="4.75" height="4.99"/>
<rect x="321.70" y="611.99" width="4.75" height="4.99"/>
<rect x="326.45" y="611.99" width="4.75" height="4.99"/>
<rect x="331.20" y="611.99" width="4.75" height="4.99"/>
<rect x="335.95" y="611.99" width="4.75" height="4.99"/>
<rect x="340.70" y="611.99" width="4.75" height="4.99"/>
<rect x="312.20" y="616.98" width="4.75" height="4.99"/>
<rect x="316.95" y="616.98" width="4.75" height="4.99"/>
<rect x="321.70" y="616.98" width="4.75" height="4.99"/>
<rect x="326.45" y="616.98" width="4.75" height="4.99"/>
<rect x="331.20" y="616.98" width="4.75" height="4.99"/>
<rect x="335.95" y="616.98" width="4.75" height="4.99"/>
<rect x="340.70" y="616.98" width="4.75" height="4.99"/>
<rect x="312.20" y="621.96" width="4.75" height="4.99"/>
<rect x="316.95" y="621.96" width="4.75" height="4.99"/>
<rect x="321.70" y="621.96" width="4.75" height="4.99"/>
<rect x="326.45" y="621.96" width="4.75" height="4.99"/>
<rect x="331.20" y="621.96" width="4.75" height="4.99"/>
<rect x="335.95" y="621.96" width="4.75" height="4.99"/>
<rect x="340.70" y="621.96" width="4.75" height="4.99"/>
</g>
<g fill="none" stroke="#d99" stroke-width="0.5">
<path d="M332.40,605.25 l1,1.2 l1.6,-2.4"/>
<path d="M337.15,605.25 l1,1.2 l1.6,-2.4"/>
<path d="M341.90,605.25 l1,1.2 l1.6,-2.4"/>
<path d="M313.40,609.40 l1,1.2 l1.6,-2.4"/>
<path d="M318.15,609.40 l1,1.2 l1.6,-2.4"/>
<path d="M322.90,609.40 l1,1.2 l1.6,-2.4"/>
<path d="M327.65,609.40 l1,1.2 l1.6,-2.4"/>
<path d="M332.40,609.40 l1,1.2 l1.6,-2.4"/>
<path d="M337.15,609.40 l1,1.2 l1.6,-2.4"/>
<path d="M341.90,609.40 l1,1.2 l1.6,-2.4"/>
<path d="M313.40,614.39 l1,1.2 l1.6,-2.4"/>
<path d="M318.15,614.39 l1,1.2 l1.6,-2.4"/>
<path d="M322.90,614.39 l1,1.2 l1.6,-2.4"/>
<path d="M337.15,614.39 l1,1.2 l1.6,-2.4"/>
<path d="M341.90,614.39 l1,1.2 l1.6,-2.4"/>
<path d="M313.40,619.38 l1,1.2 l1.6,-2.4"/>
<path d="M318.15,619.38 l1,1.2 l1.6,-2.4"/>
</g>
<rect x="324.6" y="615.6" width="9.6" height="8.6" rx="0.8" fill="#d2d2d2" stroke="#222" stroke-width="0.9"/>
<text x="329.4" y="622.6" text-anchor="middle" font-weight="bold" font-size="7.4" fill="#111" textLength="7.6" lengthAdjust="spacingAndGlyphs">21</text>
<rect x="4.4" y="638.3" width="61" height="60.9" rx="5.5" fill="#fff" stroke="#a6a6a6" stroke-width="1.1"/>
<g fill="none" stroke="#2a2a2a" stroke-width="0.85" stroke-linecap="round" stroke-linejoin="round">
  <path d="M16.1,669.6 Q11.4,668.0 8.5,664.3 Q6.2,660.0 6.2,654.9 Q8.6,653.2 11.6,654.2 Q15.0,655.6 18.5,655.2 Q22.0,654.2 24.3,652.6 L29.6,649.7 L30.6,648.6"/>
  <path d="M32.2,651.1 L27.2,653.4 Q24.0,655.4 22.5,657.0 Q20.6,659.2 19.9,661.7"/>
  <path d="M30.4,648.2 L32.6,650.8" stroke-width="1.5" stroke="#222"/>
  <path d="M34.2,651.6 Q36.8,655.6 35.8,656.9 Q34.8,657.9 33.8,656.9 Q32.9,655.6 34.2,651.6 Z" fill="#fff" stroke="#444"/>
</g>
<line x1="28.40" y1="659.60" x2="11.40" y2="677.70" stroke="#141414" stroke-width="3.20" stroke-linecap="round"/>
<path d="M12.90,653.36 L13.12,655.22 L13.47,657.07 L13.96,658.90 L14.58,660.71 L15.34,662.50 L16.23,664.27 L17.25,666.02 L18.30,667.82 L19.86,669.30 L21.48,670.77 L23.19,672.21 L25.01,673.62 L26.92,675.00 L28.95,676.36 L31.08,677.69 L33.33,679.00 L33.47,678.80 L31.47,677.16 L29.60,675.52 L27.88,673.86 L26.31,672.19 L24.88,670.52 L23.60,668.84 L22.48,667.15 L21.55,665.43 L20.36,664.00 L19.40,662.48 L18.55,660.95 L17.83,659.40 L17.22,657.84 L16.73,656.26 L16.36,654.66 L16.10,653.04 Z" fill="#141414" stroke="#141414" stroke-width="0.50" stroke-linejoin="round"/>
<g fill="none" stroke="#2a2a2a" stroke-linecap="butt"><path d="M65.4,647.9 H44.0 V691.9 H65.4" stroke-width="1.5"/><path d="M44.0,651.3 H65.4 M44.0,688.3 H65.4" stroke-width="1.2"/><path d="M59.1,651.3 V688.3" stroke-width="1.2"/><path d="M55.3,666.7 v6.4 M62.7,666.7 v6.4" stroke-width="1.2" stroke="#555"/></g>
<rect x="74.9" y="638.3" width="61" height="60.9" rx="5.5" fill="#fff" stroke="#a6a6a6" stroke-width="1.1"/>
<g fill="none" stroke="#4a4a4a" stroke-width="0.9" stroke-linejoin="round">
  <path d="M79.2,654.5 L98.7,642.2 L106.3,655.0 L87.4,667.3 Z"/>
</g>
<g fill="#777">
  <circle cx="108.4" cy="655.8" r="0.5"/><circle cx="109.6" cy="657.6" r="0.5"/><circle cx="108.0" cy="658.8" r="0.5"/>
  <circle cx="110.6" cy="659.8" r="0.5"/><circle cx="109.0" cy="661.4" r="0.5"/><circle cx="111.2" cy="662.6" r="0.5"/><circle cx="109.8" cy="664.2" r="0.6"/>
</g>
<line x1="101.50" y1="660.60" x2="84.50" y2="678.70" stroke="#141414" stroke-width="3.20" stroke-linecap="round"/>
<path d="M86.00,654.36 L86.22,656.22 L86.57,658.07 L87.06,659.90 L87.68,661.71 L88.44,663.50 L89.33,665.27 L90.35,667.02 L91.40,668.82 L92.96,670.30 L94.58,671.77 L96.29,673.21 L98.11,674.62 L100.02,676.00 L102.05,677.36 L104.18,678.69 L106.43,680.00 L106.57,679.80 L104.57,678.16 L102.70,676.52 L100.98,674.86 L99.41,673.19 L97.98,671.52 L96.70,669.84 L95.58,668.15 L94.65,666.43 L93.46,665.00 L92.50,663.48 L91.65,661.95 L90.93,660.40 L90.32,658.84 L89.83,657.26 L89.46,655.66 L89.20,654.04 Z" fill="#141414" stroke="#141414" stroke-width="0.50" stroke-linejoin="round"/>
<g fill="none" stroke="#2a2a2a" stroke-linecap="butt"><path d="M135.9,647.9 H114.5 V691.9 H135.9" stroke-width="1.5"/><path d="M114.5,651.3 H135.9 M114.5,688.3 H135.9" stroke-width="1.2"/><path d="M129.6,651.3 V688.3" stroke-width="1.2"/><path d="M125.8,666.7 v6.4 M133.2,666.7 v6.4" stroke-width="1.2" stroke="#555"/></g>
<rect x="145.3" y="638.3" width="61" height="60.9" rx="5.5" fill="#fff" stroke="#a6a6a6" stroke-width="1.1"/>
<g fill="none" stroke="#222" stroke-width="1.05" stroke-linejoin="round" stroke-linecap="round">
  <path d="M158.2,660.4 Q160.6,660.6 162.4,659.8 Q164.6,659.0 165.6,657.2 Q166.4,654.4 168.2,652.7 Q170.4,651.0 173.3,651.1 Q176.4,651.0 178.4,652.1 Q180.4,653.6 180.7,655.9 Q180.8,658.0 180.0,659.8 Q179.8,662.4 179.1,664.3 Q177.8,666.8 175.9,668.8 Q174.0,670.6 172.7,672.7 Q171.6,674.8 170.1,676.5 Q168.8,677.8 167.5,678.4"/>
  <path d="M180.0,658.8 Q178.0,660.4 175.9,661.4 Q173.4,662.4 172.0,664.3 Q171.0,666.4 170.7,668.2 Q170.0,669.8 168.8,670.7" stroke-width="0.9"/>
  <path d="M152.7,665.6 Q152.4,668.4 153.4,670.7 Q153.6,673.2 154.6,675.2 Q155.6,676.8 157.0,677.4" stroke-width="0.9"/>
  <path d="M176.8,663.6 Q175.4,665.6 174.6,667.6 M155.0,671.6 Q155.6,673.6 156.6,674.6" stroke="#999" stroke-width="0.9"/>
</g>
<line x1="168.50" y1="665.30" x2="151.50" y2="683.40" stroke="#141414" stroke-width="3.20" stroke-linecap="round"/>
<path d="M153.00,659.06 L153.22,660.92 L153.57,662.77 L154.06,664.60 L154.68,666.41 L155.44,668.20 L156.33,669.97 L157.35,671.72 L158.40,673.52 L159.96,675.00 L161.58,676.47 L163.29,677.91 L165.11,679.32 L167.02,680.70 L169.05,682.06 L171.18,683.39 L173.43,684.70 L173.57,684.50 L171.57,682.86 L169.70,681.22 L167.98,679.56 L166.41,677.89 L164.98,676.22 L163.70,674.54 L162.58,672.85 L161.65,671.13 L160.46,669.70 L159.50,668.18 L158.65,666.65 L157.93,665.10 L157.32,663.54 L156.83,661.96 L156.46,660.36 L156.20,658.74 Z" fill="#141414" stroke="#141414" stroke-width="0.50" stroke-linejoin="round"/>
<g fill="none" stroke="#2a2a2a" stroke-linecap="butt"><path d="M206.3,647.9 H184.9 V691.9 H206.3" stroke-width="1.5"/><path d="M184.9,651.3 H206.3 M184.9,688.3 H206.3" stroke-width="1.2"/><path d="M200.0,651.3 V688.3" stroke-width="1.2"/><path d="M196.2,666.7 v6.4 M203.6,666.7 v6.4" stroke-width="1.2" stroke="#555"/></g>
<rect x="216.4" y="638.3" width="61" height="60.9" rx="5.5" fill="#fff" stroke="#a6a6a6" stroke-width="1.1"/>
<g fill="none" stroke="#2a2a2a" stroke-linecap="butt"><path d="M277.4,643.3 H253.6 V692.9 H277.4" stroke-width="1.5"/><path d="M253.6,646.7 H277.4 M253.6,689.3 H277.4" stroke-width="1.2"/><path d="M269.9,646.7 V689.3" stroke-width="1.2"/><path d="M266.1,664.8 v6.4 M274.3,664.8 v6.4" stroke-width="1.2" stroke="#555"/></g>
<g fill="none" stroke="#111" stroke-linecap="round" stroke-linejoin="round">
  <circle cx="241.9" cy="649.7" r="4.3" fill="#111" stroke="none"/>
  <path d="M254.4,654.0 L241.2,657.0" stroke-width="3.7"/>
  <path d="M239.8,657.8 L231.4,669.2" stroke-width="5.0"/>
  <path d="M230.8,670.0 L229.6,676.0 L225.8,690.8" stroke-width="4.0"/>
  <path d="M232.6,670.4 L239.0,678.4 L239.6,691.2" stroke-width="4.0"/>
  <path d="M254.2,692.4 Q258.0,693.6 262.0,690.6" stroke-width="0.9" stroke="#333"/>
</g>
<line x1="258.58" y1="676.48" x2="244.30" y2="691.68" stroke="#141414" stroke-width="2.69" stroke-linecap="round"/>
<path d="M245.55,671.23 L245.74,672.80 L246.04,674.35 L246.45,675.89 L246.97,677.41 L247.61,678.91 L248.35,680.40 L249.21,681.87 L250.09,683.38 L251.40,684.62 L252.76,685.86 L254.20,687.07 L255.72,688.25 L257.34,689.42 L259.04,690.56 L260.83,691.68 L262.72,692.78 L262.83,692.60 L261.15,691.23 L259.59,689.85 L258.14,688.45 L256.82,687.05 L255.62,685.65 L254.54,684.23 L253.60,682.82 L252.82,681.37 L251.82,680.17 L251.01,678.90 L250.31,677.61 L249.70,676.31 L249.19,675.00 L248.77,673.67 L248.46,672.33 L248.25,670.97 Z" fill="#141414" stroke="#141414" stroke-width="0.42" stroke-linejoin="round"/>
<rect x="286.9" y="638.3" width="61" height="60.9" rx="5.5" fill="#fff" stroke="#a6a6a6" stroke-width="1.1"/>
<g fill="none" stroke="#2a2a2a" stroke-width="1.2" stroke-linejoin="round">
  <path d="M347.9,643.4 H302.0 V694.0 H347.9" stroke-width="1.5"/>
  <path d="M302.0,647.4 H347.9 M302.0,690.4 H347.9"/>
  <path d="M302.0,647.0 L292.8,651.2 V693.2 L302.0,694.0" />
  <path d="M302.0,669.4 H336.8 M302.0,671.2 H336.8" stroke-width="0.9"/>
  <path d="M336.8,647.4 V690.4"/>
  <path d="M341.7,665.8 V672.4" stroke="#444" stroke-width="1.1"/>
</g>
<g fill="#dcdcdc" stroke="#3c3c3c" stroke-width="0.9" stroke-linejoin="round">
  <path d="M305.6,657.0 L334.4,656.6 Q333.0,660.0 328.0,660.6 Q326.4,663.6 329.4,666.6 H309.8 Q313.4,663.6 312.4,660.6 Q308.0,659.6 305.6,657.0 Z"/>
  <path d="M316.4,666.4 Q320.0,663.0 324.0,666.4" fill="#fff"/>
</g>
<g fill="#fff" stroke="#222" stroke-width="1.1">
  <path d="M318.0,678.0 V674.6 Q318.0,673.2 319.4,673.2 H328.6 Q330.0,673.2 330.0,674.6 V678.0" />
  <circle cx="324.0" cy="683.6" r="6.6"/>
  <path d="M320.2,677.6 V675.4 H327.8 V677.6" fill="none" stroke-width="0.8"/>
</g>
<line x1="310.11" y1="677.74" x2="294.81" y2="695.12" stroke="#141414" stroke-width="3.07" stroke-linecap="round"/>
<path d="M296.16,671.75 L296.36,673.54 L296.67,675.31 L297.11,677.07 L297.68,678.81 L298.36,680.53 L299.16,682.23 L300.08,683.91 L301.02,685.63 L302.43,687.05 L303.88,688.46 L305.42,689.85 L307.05,691.20 L308.78,692.53 L310.60,693.84 L312.53,695.11 L314.55,696.37 L314.67,696.17 L312.87,694.60 L311.19,693.02 L309.65,691.43 L308.23,689.83 L306.94,688.22 L305.79,686.61 L304.78,684.99 L303.94,683.34 L302.88,681.97 L302.01,680.51 L301.25,679.04 L300.60,677.55 L300.05,676.05 L299.61,674.54 L299.27,673.00 L299.04,671.45 Z" fill="#141414" stroke="#141414" stroke-width="0.48" stroke-linejoin="round"/>
</g>
</svg>
</body></html>
